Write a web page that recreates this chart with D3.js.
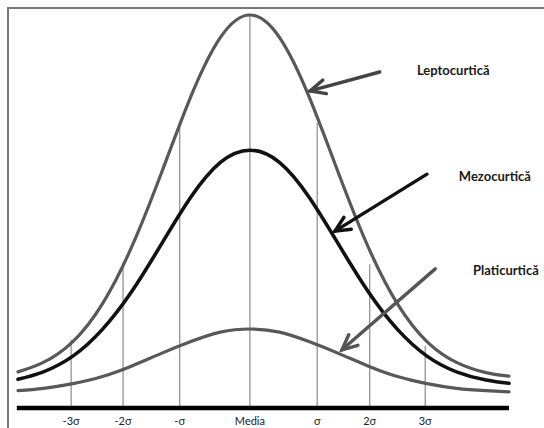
<!DOCTYPE html>
<html>
<head>
<meta charset="utf-8">
<script src="https://cdn.jsdelivr.net/npm/d3@7"></script>
<style>
  html, body { margin: 0; padding: 0; background: #fff; }
  svg { display: block; }
</style>
</head>
<body>
<svg id="chart" width="544" height="428"></svg>
<script>
// ---- data ----
// x in sigma units (Media = 0), y in relative height units (peak of leptocurtic = 100)
const xs = [-3.93, -3.5, -3, -2.5, -2, -1.5, -1, -0.5, 0, 0.5, 1, 1.5, 2, 2.5, 3, 3.5, 4, 4.39];
const leptoValues = [9.2, 11.6, 16.9, 26.5, 41.1, 59.8, 79.3, 94.3, 100, 94.3, 79.3, 59.8, 41.1, 26.5, 16.9, 11.6, 9.0, 8.1];
const mezoValues  = [7.3, 9.2, 13.2, 20.0, 29.7, 41.7, 53.7, 62.5, 65.6, 62.5, 53.7, 41.7, 29.7, 20.0, 13.2, 9.2, 7.1, 6.3];
const platiValues = [4.4, 5.0, 6.2, 8.0, 10.7, 13.9, 16.9, 19.3, 20.1, 19.3, 16.9, 13.9, 10.7, 8.0, 6.2, 5.0, 4.4, 4.1];

const tickLabels = ["-3σ", "-2σ", "-σ", "Media", "σ", "2σ", "3σ"];
const tickPositions = [-3.03, -2.15, -1.19, 0, 1.14, 2.03, 2.97];
const guideTops = [17.4, 37.2, 71.8, 100, 72.5, 36.6, 15.8];

const seriesNames = ["Leptocurtică", "Mezocurtică", "Platicurtică"];
const labelX = [2.83, 3.54, 3.78];
const labelY = [84.7, 57.8, 33.8];
const arrowTail = [[2.20, 85.5], [3.00, 59.5], [3.14, 35.4]];
const arrowTip  = [[1.02, 80.7], [1.44, 45.0], [1.56, 14.8]];

// ---- drawing ----
const svg = d3.select("#chart");
const x = d3.scaleLinear().domain([-3.93, 4.39]).range([18, 509]);
const y = d3.scaleLinear().domain([0, 100]).range([408, 15]);

// frame
svg.append("path")
  .attr("d", "M8,428 L8,8 L544,8")
  .attr("fill", "none").attr("stroke", "#777").attr("stroke-width", 2);

// guide lines
svg.append("g").selectAll("line").data(tickPositions).join("line")
  .attr("x1", d => x(d)).attr("x2", d => x(d))
  .attr("y1", y(0)).attr("y2", (d, i) => y(guideTops[i]))
  .attr("stroke", "#8a8a8a").attr("stroke-width", 1.2);

// curves
const line = d3.line().x((d, i) => x(xs[i])).y(d => y(d)).curve(d3.curveNatural);
const curves = [
  { v: platiValues, c: "#585858", w: 3.2 },
  { v: leptoValues, c: "#585858", w: 3.2 },
  { v: mezoValues,  c: "#111",    w: 3.6 }
];
svg.append("g").selectAll("path").data(curves).join("path")
  .attr("d", d => line(d.v))
  .attr("fill", "none").attr("stroke", d => d.c).attr("stroke-width", d => d.w)
  .attr("stroke-linecap", "round");

// baseline axis line
svg.append("line")
  .attr("x1", x(-3.95)).attr("x2", x(4.39))
  .attr("y1", y(0)).attr("y2", y(0))
  .attr("stroke", "#000").attr("stroke-width", 4.5);

// tick labels
svg.append("g").selectAll("text").data(tickLabels).join("text")
  .attr("x", (d, i) => x(tickPositions[i]))
  .attr("y", y(0) + 17)
  .attr("text-anchor", "middle")
  .attr("font-family", "Lato, 'Liberation Sans', sans-serif")
  .attr("font-size", 11)
  .attr("fill", "#222")
  .text(d => d);

// arrow markers
const arrowColors = ["#444", "#111", "#555"];
const defs = svg.append("defs");
arrowColors.forEach((c, i) => {
  defs.append("marker")
    .attr("id", "ah" + i)
    .attr("markerUnits", "userSpaceOnUse")
    .attr("viewBox", "-20 -10 24 20")
    .attr("refX", 0).attr("refY", 0)
    .attr("markerWidth", 24).attr("markerHeight", 20)
    .attr("orient", "auto")
    .append("path")
    .attr("d", "M-15,-7 L0,0 L-15,7")
    .attr("fill", "none").attr("stroke", c).attr("stroke-width", 3.4)
    .attr("stroke-linecap", "round").attr("stroke-linejoin", "miter");
});

svg.append("g").selectAll("line").data(seriesNames).join("line")
  .attr("x1", (d, i) => x(arrowTail[i][0])).attr("y1", (d, i) => y(arrowTail[i][1]))
  .attr("x2", (d, i) => x(arrowTip[i][0])).attr("y2", (d, i) => y(arrowTip[i][1]))
  .attr("stroke", (d, i) => arrowColors[i]).attr("stroke-width", 3.4)
  .attr("stroke-linecap", "round")
  .attr("marker-end", (d, i) => "url(#ah" + i + ")");

// series labels
svg.append("g").selectAll("text").data(seriesNames).join("text")
  .attr("x", (d, i) => x(labelX[i]))
  .attr("y", (d, i) => y(labelY[i]))
  .attr("font-family", "Lato, 'Liberation Sans', sans-serif")
  .attr("font-weight", 700)
  .attr("font-size", 13)
  .attr("fill", "#1a1a1a")
  .text(d => d);
</script>
</body>
</html>
